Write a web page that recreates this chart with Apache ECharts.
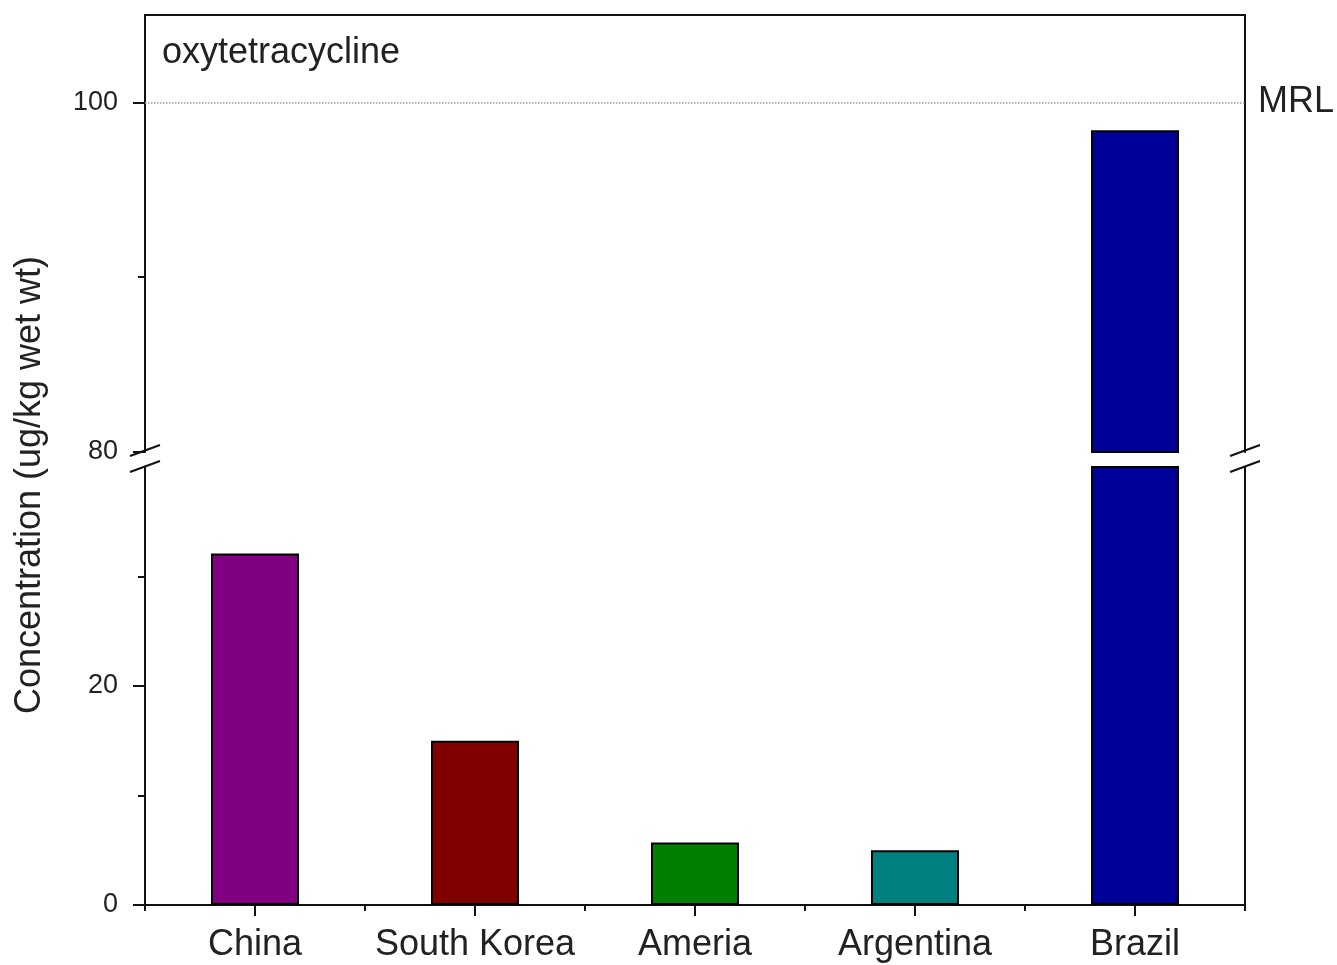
<!DOCTYPE html>
<html>
<head>
<meta charset="utf-8">
<title>oxytetracycline</title>
<script src="https://cdn.jsdelivr.net/npm/echarts@6/dist/echarts.min.js"></script>
<style>
  html, body { margin: 0; padding: 0; background: #fff; }
  #chart { width: 1337px; height: 965px; }
</style>
</head>
<body>
<div id="chart"></div>
<script>
// Residue levels per country (ug/kg wet wt)
const categories = ['China', 'South Korea', 'Ameria', 'Argentina', 'Brazil'];
const concentrations = [32.1, 15.0, 5.7, 5.0, 98.4];
const barColors = ['#800080', '#800000', '#008000', '#008080', '#000099'];

// Maximum residue limit
const mrlValue = 100;
const mrlLabel = 'MRL';

// Broken value axis: lower and upper segments
const lowerRange = [0, 40];
const upperRange = [80, 105];
const lowerTicks = [0, 20];
const lowerMinorTicks = [10, 30];
const upperTicks = [80, 100];
const upperMinorTicks = [90];

const chartTitle = 'oxytetracycline';
const yTitle = 'Concentration (ug/kg wet wt)';

// Layout
const FONT = '"Liberation Sans", Arial, Helvetica, sans-serif';
const TEXT = '#222';
const LINE = '#111';
const PLOT_LEFT = 145, PLOT_WIDTH = 1100;
const UPPER_TOP = 15, UPPER_H = 437;
const LOWER_TOP = 467, LOWER_H = 438;

const chart = echarts.init(document.getElementById('chart'));

const barData = concentrations.map((v, i) => ({ value: v, itemStyle: { color: barColors[i] } }));

function lineOnlyY(grid, pos, range) {
  return {
    type: 'value', gridIndex: grid, position: pos, min: range[0], max: range[1],
    axisLine: { show: true, lineStyle: { color: LINE, width: 2 } },
    axisTick: { show: false }, axisLabel: { show: false }, splitLine: { show: false }
  };
}
function minorY(grid, range, values) {
  return {
    type: 'value', gridIndex: grid, position: 'left', offset: 0, min: range[0], max: range[1],
    axisLine: { show: false },
    axisTick: { show: true, length: 7, customValues: values, lineStyle: { color: LINE, width: 2 } },
    axisLabel: { show: false }, splitLine: { show: false }
  };
}
function mainY(grid, range, ticks) {
  return {
    type: 'value', gridIndex: grid, position: 'left', offset: 0, min: range[0], max: range[1],
    axisLine: { show: true, lineStyle: { color: LINE, width: 2 } },
    axisTick: { show: true, length: 12, customValues: ticks, lineStyle: { color: LINE, width: 2 } },
    axisLabel: { show: true, customValues: ticks, margin: 27, fontSize: 27, fontFamily: FONT, color: TEXT },
    splitLine: { show: false }
  };
}

const option = {
  backgroundColor: '#fff',
  animation: false,
  grid: [
    { left: PLOT_LEFT, top: UPPER_TOP, width: PLOT_WIDTH, height: UPPER_H },
    { left: PLOT_LEFT, top: LOWER_TOP, width: PLOT_WIDTH, height: LOWER_H }
  ],
  xAxis: [
    { // upper frame edge
      type: 'category', gridIndex: 0, position: 'top', data: categories,
      axisLine: { show: true, lineStyle: { color: LINE, width: 2 } },
      axisTick: { show: false }, axisLabel: { show: false }
    },
    { // category labels with centred ticks
      type: 'category', gridIndex: 1, position: 'bottom', data: categories,
      axisLine: { show: true, lineStyle: { color: LINE, width: 2 } },
      axisTick: { show: true, alignWithLabel: true, length: 11, lineStyle: { color: LINE, width: 2 } },
      axisLabel: { show: true, interval: 0, hideOverlap: false, margin: 22, fontSize: 36, fontFamily: FONT, color: TEXT }
    },
    { // short ticks between categories
      type: 'category', gridIndex: 1, position: 'bottom', offset: 0, data: categories,
      axisLine: { show: false },
      axisTick: { show: true, alignWithLabel: false, interval: 0, length: 6, lineStyle: { color: LINE, width: 2 } },
      axisLabel: { show: false }
    }
  ],
  yAxis: [
    mainY(0, upperRange, upperTicks),
    minorY(0, upperRange, upperMinorTicks),
    lineOnlyY(0, 'right', upperRange),
    mainY(1, lowerRange, lowerTicks),
    minorY(1, lowerRange, lowerMinorTicks),
    lineOnlyY(1, 'right', lowerRange)
  ],
  series: [
    {
      type: 'bar', xAxisIndex: 0, yAxisIndex: 0, data: barData, barWidth: '40%', clip: true,
      itemStyle: { borderColor: '#000', borderWidth: 2 },
      markLine: {
        silent: true, symbol: ['none', 'none'],
        lineStyle: { type: 'dotted', color: '#9a9a9a', width: 1.5 },
        label: { show: true, position: 'end', distance: 13, formatter: mrlLabel, fontSize: 36, fontFamily: FONT, color: TEXT },
        data: [{ yAxis: mrlValue }]
      }
    },
    {
      type: 'bar', xAxisIndex: 1, yAxisIndex: 3, data: barData, barWidth: '40%', clip: true,
      itemStyle: { borderColor: '#000', borderWidth: 2 }
    }
  ]
};

chart.setOption(option);

// Break marks at the ends of the two axis segments, title and axis name
const yUpperEnd = chart.convertToPixel({ yAxisIndex: 0 }, upperRange[0]);
const yLowerEnd = chart.convertToPixel({ yAxisIndex: 3 }, lowerRange[1]);
const slashes = [];
[PLOT_LEFT, PLOT_LEFT + PLOT_WIDTH].forEach(x => {
  [yUpperEnd - 1, yLowerEnd].forEach(y => {
    slashes.push({
      type: 'line',
      shape: { x1: x - 15, y1: y + 5, x2: x + 15, y2: y - 6 },
      style: { stroke: LINE, lineWidth: 2 }
    });
  });
});

chart.setOption({
  graphic: slashes.concat([
    {
      type: 'text', left: 162, top: 35,
      style: { text: chartTitle, fontSize: 36, fontFamily: FONT, fill: TEXT }
    },
    {
      type: 'text', x: 30, y: 485, rotation: Math.PI / 2,
      style: { text: yTitle, fontSize: 36, fontFamily: FONT, fill: TEXT, align: 'center', verticalAlign: 'middle' }
    }
  ])
});
</script>
</body>
</html>
